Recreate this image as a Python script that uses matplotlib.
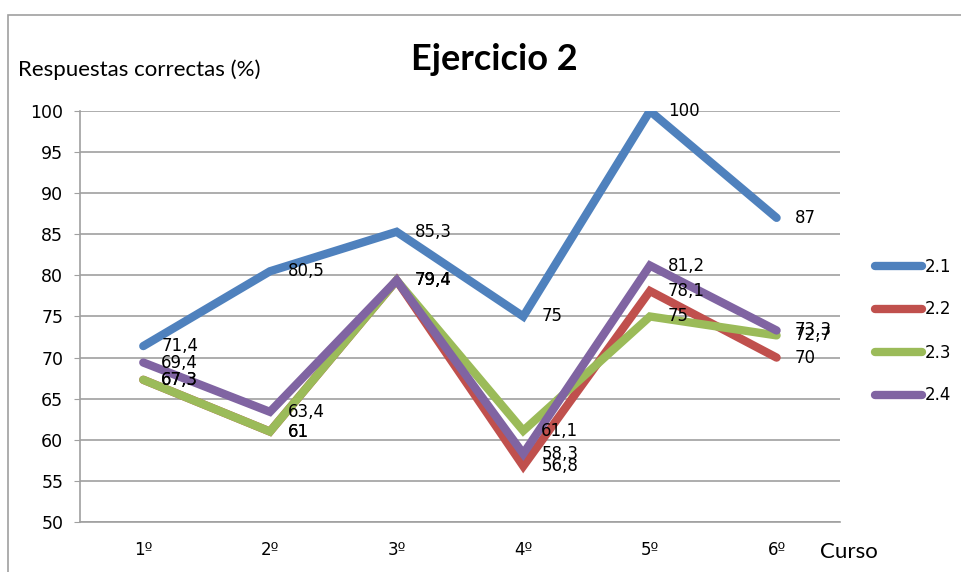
import matplotlib.pyplot as plt
from matplotlib.patches import Rectangle

cursos = ["1º", "2º", "3º", "4º", "5º", "6º"]
series = ["2.1", "2.2", "2.3", "2.4"]
v21 = [71.4, 80.5, 85.3, 75, 100, 87]
v22 = [67.3, 61, 79.4, 56.8, 78.1, 70]
v23 = [67.3, 61, 79.4, 61.1, 75, 72.7]
v24 = [69.4, 63.4, 79.4, 58.3, 81.2, 73.3]
colores = ["#4F81BD", "#C0504D", "#9BBB59", "#8064A2"]

fig = plt.figure(figsize=(9.61, 5.72), dpi=100)
ax = fig.add_axes([0.0832, 0.0874, 0.7908, 0.7186])

# outer chart border (only top and left edges fall inside the image)
fig.add_artist(Rectangle((8 / 961, -0.1), 1.2, (572 - 15) / 572 + 0.1,
                         transform=fig.transFigure, fill=False,
                         edgecolor="#A0A0A0", linewidth=1.2))

x = list(range(len(cursos)))
for nombre, valores, color in zip(series, [v21, v22, v23, v24], colores):
    ax.plot(x, valores, color=color, linewidth=6, solid_capstyle="round",
            solid_joinstyle="miter", label=nombre)
    for xi, yi in zip(x, valores):
        etiqueta = ("%g" % yi).replace(".", ",")
        ax.annotate(etiqueta, (xi, yi), xytext=(13, 0),
                    textcoords="offset points", va="center", ha="left",
                    fontsize=12, family="DejaVu Sans", color="black")

ax.set_xlim(-0.5, 5.5)
ax.set_ylim(50, 100)
ax.set_yticks(range(50, 101, 5))
ax.set_xticks(x)
ax.set_xticklabels(cursos)
ax.yaxis.grid(True, color="#A0A0A0", linewidth=1.2)
ax.set_axisbelow(True)
for lado in ["top", "right"]:
    ax.spines[lado].set_visible(False)
for lado in ["left", "bottom"]:
    ax.spines[lado].set_color("#A0A0A0")
    ax.spines[lado].set_linewidth(1.2)
ax.tick_params(axis="y", length=4, color="#A0A0A0", labelsize=12.5, pad=8)
ax.tick_params(axis="x", length=0, labelsize=12, pad=14)

fig.text(494 / 961, 1 - 60 / 572, "Ejercicio 2", ha="center", va="center",
         fontsize=26, fontweight="bold", family="Lato")
fig.text(18 / 961, 1 - 70 / 572, "Respuestas correctas (%)", ha="left",
         va="center", fontsize=16, family="Lato")
fig.text(820 / 961, 1 - 552 / 572, "Curso", ha="left", va="center",
         fontsize=16, family="Lato")

fig.legend(handles=ax.get_lines(), labels=series, loc="center left",
           bbox_to_anchor=(875 / 961, 1 - 331 / 572),
           bbox_transform=fig.transFigure, frameon=False, fontsize=12,
           handlelength=2.8, handletextpad=0.2, labelspacing=1.5,
           borderpad=0, borderaxespad=0)

fig.savefig("out.png", dpi=100)
